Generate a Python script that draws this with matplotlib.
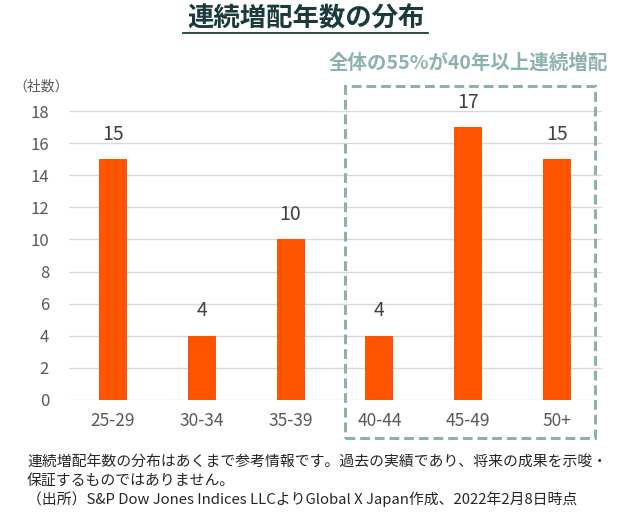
import matplotlib
matplotlib.use("Agg")
import matplotlib.pyplot as plt
from matplotlib.patches import Rectangle

plt.rcParams['font.family'] = ['Noto Sans CJK JP', 'DejaVu Sans']

# data
categories = ['25-29', '30-34', '35-39', '40-44', '45-49', '50+']
counts = [15, 4, 10, 4, 17, 15]
yticks = [0, 2, 4, 6, 8, 10, 12, 14, 16, 18]

bar_color = '#FF5500'
box_color = '#8DB1AE'
tick_color = '#595959'

fig = plt.figure(figsize=(6.24, 5.18), dpi=100)
ax = fig.add_axes([68.5 / 624, 1 - 400 / 518, 533 / 624, 289 / 518])

x = range(len(categories))
ax.bar(x, counts, width=0.315, color=bar_color, zorder=3)
for i, v in zip(x, counts):
    ax.text(i, v + 1.55, str(v), ha='center', va='center', fontsize=14, color='#404040')

ax.set_xlim(-0.5, len(categories) - 0.5)
ax.set_ylim(0, 18)
ax.set_yticks(yticks)
ax.set_xticks(list(x))
ax.set_xticklabels(categories)
ax.grid(axis='y', color='#D9D9D9', linewidth=1, zorder=0)
for s in ax.spines.values():
    s.set_visible(False)
ax.tick_params(axis='both', length=0, labelcolor=tick_color)
ax.tick_params(axis='y', pad=14, labelsize=12)
ax.tick_params(axis='x', pad=9, labelsize=12.5)

# titles and notes
fig.text(306 / 624, 1 - 19 / 518, '連続増配年数の分布', ha='center', va='center',
         fontsize=19, fontweight='bold', color='#1B3A3C')
fig.add_artist(plt.Line2D([183 / 624, 428 / 624], [1 - 33 / 518, 1 - 33 / 518],
                          color='#1B3A3C', linewidth=1.3))
fig.text(468 / 624, 1 - 63 / 518, '全体の55%が40年以上連続増配', ha='center', va='center',
         fontsize=14, fontweight='bold', color=box_color)
fig.text(41 / 624, 1 - 87 / 518, '（社数）', ha='center', va='center',
         fontsize=10, color=tick_color)

# dashed box around the 40+ groups
fig.add_artist(Rectangle((345 / 624, 1 - 438 / 518), 250 / 624, 352 / 518,
                         transform=fig.transFigure, fill=False, edgecolor=box_color,
                         linewidth=2.2, linestyle=(0, (3.2, 1.6))))

notes = ['連続増配年数の分布はあくまで参考情報です。過去の実績であり、将来の成果を示唆・',
         '保証するものではありません。',
         '（出所）S&P Dow Jones Indices LLCよりGlobal X Japan作成、2022年2月8日時点']
for k, line in enumerate(notes):
    fig.text(27 / 624, 1 - (463 + 18 * k) / 518, line, ha='left', va='center',
             fontsize=10.7, color='#262626')

fig.savefig('out.png', dpi=100)
